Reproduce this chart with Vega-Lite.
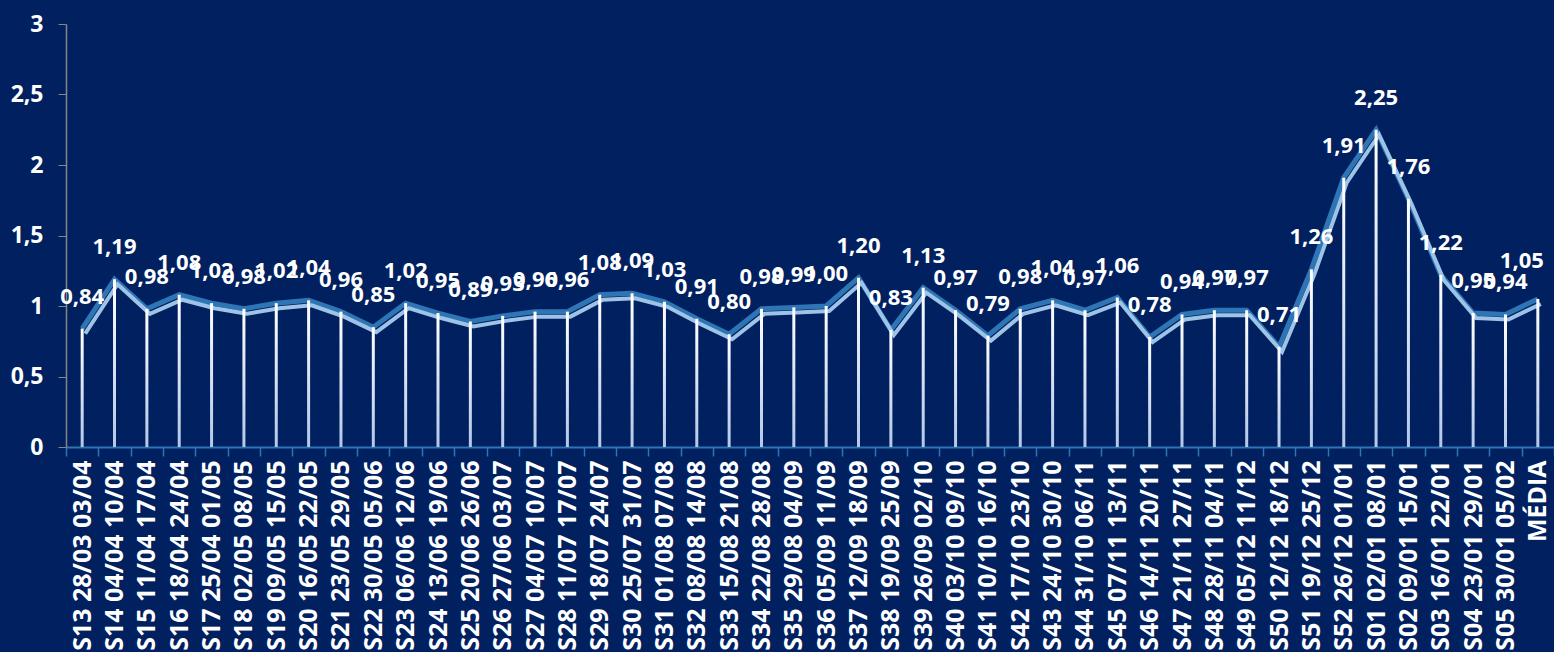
{
  "$schema": "https://vega.github.io/schema/vega-lite/v6.json",
  "width": 1488,
  "height": 423,
  "autosize": "none",
  "padding": {"left": 66, "top": 24, "right": 0, "bottom": 205},
  "background": "#002060",
  "config": {
    "view": {"stroke": null},
    "locale": {"number": {"decimal": ",", "thousands": ".", "grouping": [3], "currency": ["", " €"]}},
    "axis": {"labelFont": "Open Sans", "labelFontWeight": "bold", "labelColor": "#ffffff", "grid": false, "title": null}
  },
  "data": {
    "values": [
      {"semana": "S13 28/03  03/04", "valor": 0.84},
      {"semana": "S14 04/04 10/04", "valor": 1.19},
      {"semana": "S15 11/04 17/04", "valor": 0.98},
      {"semana": "S16 18/04 24/04", "valor": 1.08},
      {"semana": "S17 25/04 01/05", "valor": 1.02},
      {"semana": "S18 02/05 08/05", "valor": 0.98},
      {"semana": "S19 09/05 15/05", "valor": 1.02},
      {"semana": "S20 16/05 22/05", "valor": 1.04},
      {"semana": "S21 23/05 29/05", "valor": 0.96},
      {"semana": "S22 30/05 05/06", "valor": 0.85},
      {"semana": "S23 06/06 12/06", "valor": 1.02},
      {"semana": "S24 13/06 19/06", "valor": 0.95},
      {"semana": "S25 20/06 26/06", "valor": 0.89},
      {"semana": "S26 27/06 03/07", "valor": 0.93},
      {"semana": "S27 04/07 10/07", "valor": 0.96},
      {"semana": "S28 11/07 17/07", "valor": 0.96},
      {"semana": "S29 18/07 24/07", "valor": 1.08},
      {"semana": "S30 25/07 31/07", "valor": 1.09},
      {"semana": "S31 01/08 07/08", "valor": 1.03},
      {"semana": "S32 08/08 14/08", "valor": 0.91},
      {"semana": "S33 15/08 21/08", "valor": 0.80},
      {"semana": "S34 22/08 28/08", "valor": 0.98},
      {"semana": "S35 29/08 04/09", "valor": 0.99},
      {"semana": "S36 05/09 11/09", "valor": 1.00},
      {"semana": "S37 12/09 18/09", "valor": 1.20},
      {"semana": "S38 19/09 25/09", "valor": 0.83},
      {"semana": "S39 26/09 02/10", "valor": 1.13},
      {"semana": "S40 03/10 09/10", "valor": 0.97},
      {"semana": "S41 10/10 16/10", "valor": 0.79},
      {"semana": "S42 17/10 23/10", "valor": 0.98},
      {"semana": "S43 24/10 30/10", "valor": 1.04},
      {"semana": "S44 31/10 06/11", "valor": 0.97},
      {"semana": "S45 07/11 13/11", "valor": 1.06},
      {"semana": "S46 14/11 20/11", "valor": 0.78},
      {"semana": "S47 21/11 27/11", "valor": 0.94},
      {"semana": "S48 28/11 04/11", "valor": 0.97},
      {"semana": "S49 05/12 11/12", "valor": 0.97},
      {"semana": "S50 12/12 18/12", "valor": 0.71},
      {"semana": "S51 19/12 25/12", "valor": 1.26},
      {"semana": "S52 26/12 01/01", "valor": 1.91},
      {"semana": "S01 02/01 08/01", "valor": 2.25},
      {"semana": "S02 09/01 15/01", "valor": 1.76},
      {"semana": "S03 16/01 22/01", "valor": 1.22},
      {"semana": "S04 23/01 29/01", "valor": 0.95},
      {"semana": "S05 30/01 05/02", "valor": 0.94},
      {"semana": "MÉDIA", "valor": 1.05}
    ]
  },
  "encoding": {
    "x": {
      "field": "semana",
      "type": "nominal",
      "sort": null,
      "scale": {"type": "band", "paddingInner": 0, "paddingOuter": 0},
      "axis": {
        "labelAngle": -90,
        "labelAlign": "right",
        "labelBaseline": "middle",
        "labelFontSize": 25,
        "labelLimit": 0,
        "labelPadding": 4,
        "labelOverlap": false,
        "tickBand": "extent",
        "tickSize": 9,
        "tickColor": "#2e75b6",
        "tickWidth": 1.5,
        "domainColor": "#2e75b6",
        "domainWidth": 2
      }
    },
    "y": {
      "field": "valor",
      "type": "quantitative",
      "scale": {"domain": [0, 3], "nice": false},
      "axis": {
        "values": [0, 0.5, 1, 1.5, 2, 2.5, 3],
        "format": "~g",
        "labelFontSize": 23,
        "labelPadding": 15,
        "tickSize": 8,
        "tickColor": "#868686",
        "domainColor": "#868686",
        "domainWidth": 1.5
      }
    }
  },
  "layer": [
    {
      "mark": {"type": "line", "color": "#2e75b6", "strokeWidth": 5, "strokeJoin": "miter"}
    },
    {
      "mark": {"type": "line", "color": "#9dc3e6", "strokeWidth": 4, "xOffset": 3, "yOffset": 5, "strokeJoin": "miter"}
    },
    {
      "mark": {
        "type": "bar",
        "size": 3,
        "color": {
          "gradient": "linear",
          "x1": 0, "y1": 0, "x2": 0, "y2": 1,
          "stops": [
            {"offset": 0, "color": "#ffffff"},
            {"offset": 1, "color": "#b4c7e7"}
          ]
        }
      }
    },
    {
      "transform": [{"filter": "datum.semana != 'MÉDIA'"}],
      "mark": {"type": "text", "color": "#ffffff", "font": "Open Sans", "fontWeight": "bold", "fontSize": 22, "baseline": "middle", "dy": -32},
      "encoding": {"text": {"field": "valor", "type": "quantitative", "format": ".2f"}}
    },
    {
      "transform": [{"filter": "datum.semana == 'MÉDIA'"}],
      "mark": {"type": "text", "color": "#ffffff", "font": "Open Sans", "fontWeight": "bold", "fontSize": 22, "baseline": "middle", "dy": -38, "dx": -16},
      "encoding": {"text": {"field": "valor", "type": "quantitative", "format": ".2f"}}
    }
  ]
}
